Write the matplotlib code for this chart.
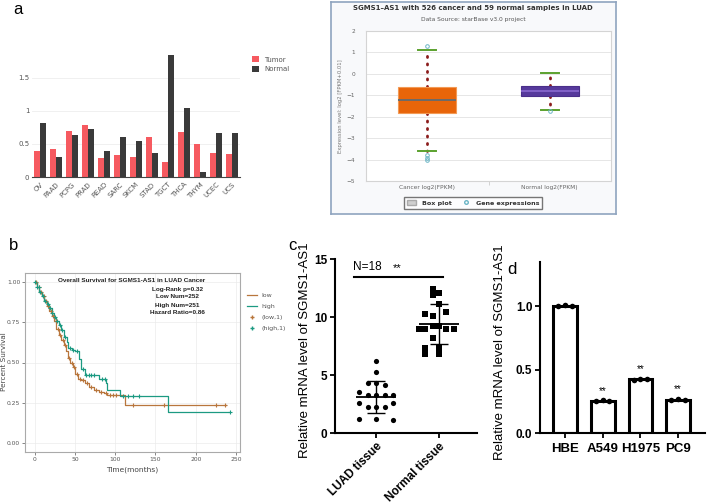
import numpy as np
import matplotlib
matplotlib.use("Agg")
import matplotlib.pyplot as plt
from matplotlib.patches import Patch
from matplotlib.lines import Line2D

# ---- panel a (left): expression across cancer types ----
cancer_types = ['OV', 'PAAD', 'PCPG', 'PRAD', 'READ', 'SARC', 'SKCM', 'STAD',
                'TGCT', 'THCA', 'THYM', 'UCEC', 'UCS']
tumor_vals = [0.40, 0.43, 0.69, 0.78, 0.28, 0.33, 0.30, 0.61, 0.23, 0.68, 0.50, 0.37, 0.35]
normal_vals = [0.81, 0.30, 0.64, 0.72, 0.39, 0.60, 0.55, 0.36, 1.84, 1.05, 0.08, 0.66, 0.66]

# ---- panel a (right): starBase box plot ----
box_groups = ['Cancer log2(FPKM)', 'Normal log2(FPKM)']
box_q1 = [-1.83, -1.05]
box_med = [-1.23, -0.78]
box_q3 = [-0.63, -0.58]
box_whislo = [-3.6, -1.70]
box_whishi = [1.10, 0.02]
box_fliers = [[1.3, -3.8, -3.92, -4.02], [-1.75]]

# ---- panel b: Kaplan-Meier ----
low_t = [0, 3, 6, 9, 12, 15, 18, 21, 24, 27, 30, 33, 36, 39, 41, 44, 47, 50,
         54, 58, 63, 68, 74, 80, 86, 90, 112, 238]
low_s = [1.00, 0.97, 0.94, 0.91, 0.88, 0.85, 0.82, 0.79, 0.76, 0.71, 0.67, 0.64,
         0.61, 0.57, 0.53, 0.50, 0.47, 0.43, 0.40, 0.39, 0.37, 0.35, 0.33, 0.32,
         0.31, 0.30, 0.235, 0.235]
high_t = [0, 3, 6, 9, 12, 15, 18, 21, 24, 27, 30, 33, 36, 40, 42, 46, 50, 55,
          58, 62, 80, 88, 90, 106, 166, 242]
high_s = [1.00, 0.97, 0.94, 0.91, 0.88, 0.86, 0.84, 0.81, 0.78, 0.76, 0.73, 0.70,
          0.66, 0.63, 0.59, 0.58, 0.57, 0.52, 0.46, 0.42, 0.40, 0.37, 0.33, 0.295,
          0.194, 0.194]
low_cens = [2, 5, 8, 11, 14, 17, 20, 23, 26, 29, 32, 35, 38, 43, 46, 49, 52, 56,
            60, 65, 70, 76, 82, 88, 93, 97, 101, 122, 160, 225, 236]
high_cens = [1, 3, 5, 7, 10, 13, 16, 19, 22, 25, 28, 31, 34, 38, 44, 48, 52, 60,
             64, 67, 70, 74, 84, 87, 110, 116, 122, 130, 242]

# ---- panel c: tissue qPCR ----
tissue_labels = ['LUAD tissue', 'Normal tissue']
luad_y = [6.2, 5.3, 4.35, 4.35, 4.1, 3.55, 3.25, 3.25, 3.25, 3.25, 2.6, 2.6,
          2.25, 2.25, 2.25, 1.2, 1.2, 1.15]
luad_dx = [0, 0, -0.13, 0, 0.14, -0.27, -0.13, 0, 0.14, 0.27, -0.27, 0.27,
           -0.13, 0, 0.14, -0.27, 0, 0.27]
norm_y = [12.4, 12.05, 11.9, 11.1, 10.3, 10.1, 10.4, 8.97, 8.97, 9.25, 9.25,
          8.97, 8.97, 8.2, 7.3, 7.3, 6.8, 6.8]
norm_dx = [-0.10, 0, -0.10, 0, -0.22, -0.10, 0.11, -0.32, -0.22, -0.10, 0,
           0.11, 0.23, -0.10, -0.22, 0, -0.22, 0]

# ---- panel d: cell lines ----
cell_lines = ['HBE', 'A549', 'H1975', 'PC9']
cell_reps = [[1.00, 1.01, 1.00], [0.25, 0.26, 0.25], [0.42, 0.43, 0.43], [0.26, 0.27, 0.26]]

W, H = 709, 504


def rect(l, t, r, b):
    # pixel box -> figure fraction
    return [l / W, 1 - b / H, (r - l) / W, (b - t) / H]


fig = plt.figure(figsize=(W / 100, H / 100), dpi=100)
fig.patch.set_facecolor('white')

# ===================== a: bar chart =====================
ax = fig.add_axes(rect(32, 52, 240, 177))
x = np.arange(len(cancer_types))
bw = 0.38
ax.bar(x - bw / 2 - 0.01, tumor_vals, bw, color='#f65a60', label='Tumor')
ax.bar(x + bw / 2 + 0.01, normal_vals, bw, color='#3a3a3a', label='Normal')
ax.set_xlim(-0.5, len(cancer_types) - 0.5)
ax.set_ylim(0, 1.89)
ax.set_yticks([0, 0.5, 1, 1.5])
ax.set_yticklabels(['0', '0.5', '1', '1.5'])
ax.set_xticks(x)
ax.set_xticklabels(cancer_types, rotation=45, ha='right', rotation_mode='anchor')
ax.tick_params(labelsize=5, colors='#555555', length=0, pad=2)
ax.tick_params(axis='x', pad=3)
ax.grid(axis='y', color='#eeeeee', lw=0.6)
ax.set_axisbelow(True)
for s in ['top', 'right', 'left']:
    ax.spines[s].set_visible(False)
ax.spines['bottom'].set_color('#444444')
ax.spines['bottom'].set_linewidth(0.8)
ax.legend(loc='upper left', bbox_to_anchor=(246 / W, 1 - 50 / H), bbox_transform=fig.transFigure,
          frameon=False, fontsize=5, handlelength=0.9, handleheight=0.9, labelspacing=0.5,
          labelcolor='#555555')

# ===================== a: starBase box plot =====================
frame = fig.add_axes(rect(331, 2, 616, 214))
frame.set_facecolor('#f8f9fb')
frame.set_xticks([])
frame.set_yticks([])
for s in frame.spines.values():
    s.set_color('#8fa4bf')
    s.set_linewidth(1.2)

fig.text(473 / W, 1 - 8 / H, 'SGMS1\u2013AS1 with 526 cancer and 59 normal samples in LUAD',
         ha='center', va='center', fontsize=5.0, fontweight='bold', color='#333333')
fig.text(473 / W, 1 - 19 / H, 'Data Source: starBase v3.0 project',
         ha='center', va='center', fontsize=4.3, color='#555555')

bx = fig.add_axes(rect(366, 31, 611, 181))
bx.set_facecolor('white')
stats = []
for i in range(len(box_groups)):
    stats.append(dict(med=box_med[i], q1=box_q1[i], q3=box_q3[i],
                      whislo=box_whislo[i], whishi=box_whishi[i],
                      fliers=box_fliers[i], label=box_groups[i]))
bp = bx.bxp(stats, positions=[0, 1], widths=0.47, capwidths=[0.15, 0.15], patch_artist=True,
            whiskerprops=dict(color='#8b1c1c', linestyle=(0, (0.4, 2.3)), linewidth=2.0,
                              dash_capstyle='round'),
            capprops=dict(color='#5ba12e', linewidth=1.4),
            flierprops=dict(marker='o', mfc='none', mec='#6cb6c6', ms=2.6, mew=0.7))
box_faces = ['#e8650a', '#56399c']
box_edges = ['#f29a55', '#4a2f8a']
med_cols = ['#6b6b6b', '#8262c8']
for patch, fc, ec in zip(bp['boxes'], box_faces, box_edges):
    patch.set_facecolor(fc)
    patch.set_edgecolor(ec)
    patch.set_linewidth(0.8)
    patch.set_zorder(3)
for m, c in zip(bp['medians'], med_cols):
    m.set_color(c)
    m.set_linewidth(1.4)
    m.set_zorder(4)
bx.set_xlim(-0.5, 1.5)
bx.set_ylim(-5, 2)
bx.set_yticks(range(-5, 3))
bx.set_xticks([0, 1])
bx.set_xticklabels(box_groups)
bx.set_xticks([0.5], minor=True)
bx.tick_params(axis='x', which='minor', length=3, color='#cccccc')
bx.tick_params(axis='x', which='major', length=0)
bx.tick_params(labelsize=4.2, colors='#666666', pad=3)
bx.tick_params(axis='y', length=0, pad=8)
bx.grid(axis='y', color='#e6e6e6', lw=0.7)
bx.set_axisbelow(True)
for s in bx.spines.values():
    s.set_color('#d4d4d4')
    s.set_linewidth(0.8)
bx.set_ylabel('Expression level: log2 [FPKM+0.01]', fontsize=3.8, color='#777777', labelpad=2)
leg = fig.legend(handles=[Patch(facecolor='#cfcfcf', edgecolor='#aaaaaa', label='Box plot'),
                          Line2D([], [], ls='none', marker='o', mfc='none', mec='#6cb6c6',
                                 ms=2.6, label='Gene expressions')],
                 loc='center', bbox_to_anchor=(473 / W, 1 - 203 / H), ncol=2,
                 prop=dict(weight='bold', size=4.6), frameon=True, fancybox=False,
                 handlelength=1.5, handleheight=0.9, columnspacing=1.5, borderpad=0.5)
leg.get_frame().set_edgecolor('#555555')
leg.get_frame().set_linewidth(1.0)
for t in leg.get_texts():
    t.set_color('#333333')

# ===================== b: Kaplan-Meier =====================
kb = fig.add_axes(rect(25, 273, 240, 452))
low_col, high_col = '#b8763c', '#1c9a82'
kb.step(low_t, low_s, where='post', color=low_col, lw=0.9)
kb.step(high_t, high_s, where='post', color=high_col, lw=0.9)
li = np.searchsorted(low_t, low_cens, side='right') - 1
hi = np.searchsorted(high_t, high_cens, side='right') - 1
kb.plot(low_cens, np.array(low_s)[li], ls='none', marker='+', color=low_col, ms=3.5, mew=0.8)
kb.plot(high_cens, np.array(high_s)[hi], ls='none', marker='+', color=high_col, ms=3.5, mew=0.8)
kb.set_xlim(-12, 255)
kb.set_ylim(-0.055, 1.055)
kb.set_xticks([0, 50, 100, 150, 200, 250])
kb.set_yticks([0, 0.25, 0.5, 0.75, 1.0])
kb.set_yticklabels(['0.00', '0.25', '0.50', '0.75', '1.00'])
kb.tick_params(labelsize=4.3, colors='#555555', length=2, width=0.5, pad=1.5)
kb.grid(color='#ebebeb', lw=0.5)
kb.set_axisbelow(True)
for s in kb.spines.values():
    s.set_color('#aaaaaa')
    s.set_linewidth(0.8)
kb.set_xlabel('Time(months)', fontsize=5.4, color='#444444', labelpad=3)
fig.text(4 / W, 1 - 362 / H, 'Percent Survival', rotation=90, ha='center', va='center',
         fontsize=5.2, color='#444444')
txt_font = dict(family=['Liberation Sans', 'DejaVu Sans'], weight='bold', size=4.6)
fig.text(132 / W, 1 - 281 / H, 'Overall Survival for SGMS1-AS1 in LUAD Cancer',
         ha='center', va='center', color='#222222', fontdict=txt_font)
for k, line in enumerate(['Log-Rank p=0.32', 'Low Num=252', 'High Num=251', 'Hazard Ratio=0.86']):
    fig.text(177 / W, 1 - (289 + 8 * k) / H, line, ha='center', va='center',
             color='#222222', fontdict=txt_font)
fig.legend(handles=[Line2D([], [], color=low_col, lw=0.9, label='low'),
                    Line2D([], [], color=high_col, lw=0.9, label='high'),
                    Line2D([], [], ls='none', marker='+', color=low_col, ms=3.5, label='(low,1)'),
                    Line2D([], [], ls='none', marker='+', color=high_col, ms=3.5, label='(high,1)')],
           loc='upper left', bbox_to_anchor=(241 / W, 1 - 287 / H), frameon=False,
           fontsize=4.5, labelcolor='#555555', handlelength=1.6, labelspacing=0.9)

# ===================== c: tissue scatter =====================
plt.rcParams['font.family'] = ['Liberation Sans', 'DejaVu Sans']
cx = fig.add_axes(rect(335, 259, 477, 433))
groups = [(luad_y, luad_dx, 'o'), (norm_y, norm_dx, 's')]
for i, (ys, dxs, mk) in enumerate(groups):
    ys = np.array(ys)
    cx.scatter(i + np.array(dxs), ys, marker=mk, s=14, color='black', zorder=3, linewidths=0)
    m, sd = ys.mean(), ys.std(ddof=1)
    cx.hlines(m, i - 0.32, i + 0.32, color='black', lw=1.3, zorder=4)
    cx.errorbar(i, m, yerr=sd, fmt='none', ecolor='black', elinewidth=1.0,
                capsize=6.5, capthick=1.0, zorder=4)
cx.plot([-0.35, 1.06], [13.45, 13.45], color='black', lw=1.5)
cx.text(-0.14, 14.3, 'N=18', ha='center', va='center', fontsize=8.5)
cx.text(0.33, 14.2, '**', ha='center', va='center', fontsize=8)
cx.set_xlim(-0.65, 1.6)
cx.set_ylim(0, 15)
cx.set_yticks([0, 5, 10, 15])
cx.set_xticks([0, 1])
cx.set_xticklabels(tissue_labels, rotation=45, ha='right', rotation_mode='anchor')
cx.tick_params(labelsize=8.5, width=1.3, length=3.5, pad=2)
for lbl in cx.get_yticklabels() + cx.get_xticklabels():
    lbl.set_fontweight('bold')
for s in ['top', 'right']:
    cx.spines[s].set_visible(False)
for s in ['left', 'bottom']:
    cx.spines[s].set_linewidth(1.5)
fig.text(305 / W, 1 - 350 / H, 'Relative mRNA level of SGMS1-AS1', rotation=90,
         ha='center', va='center', fontsize=9.5)

# ===================== d: cell line bars =====================
dx_ax = fig.add_axes(rect(540, 262, 705, 433))
xd = np.arange(len(cell_lines))
means = [np.mean(r) for r in cell_reps]
dx_ax.bar(xd, means, 0.63, facecolor='white', edgecolor='black', linewidth=2.2, zorder=2)
for i, reps in enumerate(cell_reps):
    dx_ax.scatter(i + np.array([-0.18, 0, 0.18]), reps, s=16, color='black', zorder=3, linewidths=0)
    if i > 0:
        dx_ax.text(i, max(reps) + 0.035, '**', ha='center', va='bottom', fontsize=7)
dx_ax.set_xlim(-0.66, 3.71)
dx_ax.set_ylim(0, 1.35)
dx_ax.set_yticks([0, 0.5, 1.0])
dx_ax.set_yticklabels(['0.0', '0.5', '1.0'])
dx_ax.set_xticks(xd)
dx_ax.set_xticklabels(cell_lines)
dx_ax.tick_params(labelsize=8.5, width=1.3, length=3.5, pad=2)
dx_ax.tick_params(axis='x', labelsize=9.5, pad=4)
for lbl in dx_ax.get_yticklabels() + dx_ax.get_xticklabels():
    lbl.set_fontweight('bold')
for s in ['top', 'right']:
    dx_ax.spines[s].set_visible(False)
for s in ['left', 'bottom']:
    dx_ax.spines[s].set_linewidth(1.5)
fig.text(500 / W, 1 - 352 / H, 'Relative mRNA level of SGMS1-AS1', rotation=90,
         ha='center', va='center', fontsize=9.5)

# ---- panel letters ----
for lab, px, py in [('a', 18, 10), ('b', 14, 246), ('c', 292, 246), ('d', 512, 270)]:
    fig.text(px / W, 1 - py / H, lab, ha='center', va='center', fontsize=12)

fig.savefig('out.png', dpi=100)
